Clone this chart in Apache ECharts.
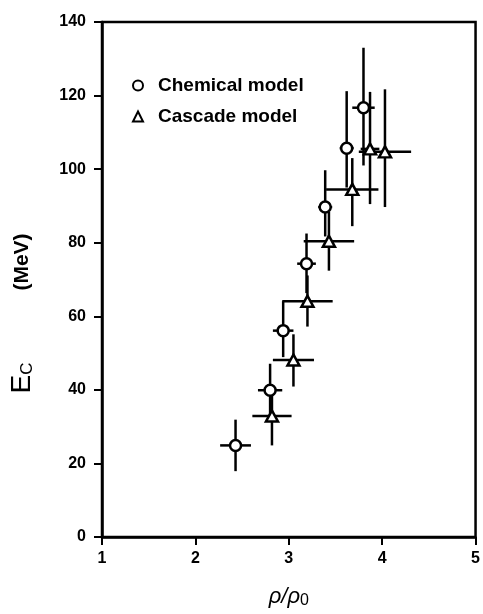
<!DOCTYPE html>
<html>
<head>
<meta charset="utf-8">
<script src="https://cdn.jsdelivr.net/npm/echarts@6/dist/echarts.min.js"></script>
<style>html,body{margin:0;padding:0;background:#fff;overflow:hidden}#c{width:483px;height:614px}</style>
</head>
<body>
<div id="c"></div>
<script>
// Chemical model (circles)
var chemX    = [2.43, 2.80, 2.94, 3.19, 3.39, 3.62, 3.80];
var chemY    = [24.9, 39.9, 56.1, 74.3, 89.7, 105.7, 116.7];
var chemXErr = [0.165, 0.13, 0.11, 0.10, 0.075, 0.075, 0.12];
var chemYLo  = [7, 7, 7.2, 8, 8, 10.7, 15.7];
var chemYHi  = [7, 7.2, 8, 8.2, 10, 15.5, 16.3];
// Cascade model (triangles)
var casX    = [2.82, 3.05, 3.20, 3.43, 3.68, 3.87, 4.03];
var casY    = [32.9, 48.1, 64.1, 80.4, 94.5, 105.5, 104.7];
var casXErr = [0.21, 0.22, 0.27, 0.27, 0.28, 0.10, 0.28];
var casYLo  = [8, 7.2, 6.9, 8, 10, 15, 15];
var casYHi  = [8, 7, 7, 8, 8.5, 15.5, 17];
var xTicks = [1, 2, 3, 4, 5];
var yTicks = [0, 20, 40, 60, 80, 100, 120, 140];

var FONT = 'Liberation Sans, Arial, sans-serif';

function rows(x, y, xe, lo, hi) {
  return x.map(function (v, i) { return [v, y[i], xe[i], lo[i], hi[i]]; });
}
function errRender(params, api) {
  var x = api.value(0), y = api.value(1), xe = api.value(2), lo = api.value(3), hi = api.value(4);
  var pl = api.coord([x - xe, y]), pr = api.coord([x + xe, y]);
  var pb = api.coord([x, y - lo]), pt = api.coord([x, y + hi]);
  var st = { stroke: '#000', lineWidth: 2.5 };
  return {
    type: 'group',
    children: [
      { type: 'line', shape: { x1: pl[0], y1: pl[1], x2: pr[0], y2: pr[1] }, style: st },
      { type: 'line', shape: { x1: pb[0], y1: pb[1], x2: pt[0], y2: pt[1] }, style: st }
    ]
  };
}

var chart = echarts.init(document.getElementById('c'), null, { renderer: 'canvas' });
chart.setOption({
  animation: false,
  backgroundColor: '#fff',
  grid: { left: 102, right: 4, top: 22, bottom: 68, show: true, borderColor: '#000', borderWidth: 2.5, backgroundColor: 'transparent' },
  xAxis: {
    type: 'value', min: xTicks[0], max: xTicks[xTicks.length - 1], interval: 1,
    axisLine: { lineStyle: { color: '#000', width: 2.5 } },
    axisTick: { inside: false, length: 8, lineStyle: { color: '#000', width: 2 } },
    axisLabel: { margin: 14, color: '#000', fontSize: 16, fontWeight: 'bold', fontFamily: FONT, showMaxLabel: true },
    splitLine: { show: false },
    name: '{i|ρ/ρ}{s|0}', nameLocation: 'middle', nameGap: 48,
    nameTextStyle: {
      rich: {
        i: { fontSize: 22, fontStyle: 'italic', fontFamily: FONT, color: '#000' },
        s: { fontSize: 16, fontFamily: FONT, color: '#000', padding: [8, 0, 0, 0] }
      }
    }
  },
  yAxis: {
    type: 'value', min: yTicks[0], max: yTicks[yTicks.length - 1], interval: 20,
    axisLine: { lineStyle: { color: '#000', width: 2.5 } },
    axisTick: { inside: false, length: 8, lineStyle: { color: '#000', width: 2 } },
    axisLabel: { margin: 16, color: '#000', fontSize: 16, fontWeight: 'bold', fontFamily: FONT },
    splitLine: { show: false }
  },
  graphic: [
    { type: 'text', x: 22, y: 378, rotation: Math.PI / 2,
      style: { text: '{e|E}{s|C}', align: 'center', verticalAlign: 'middle',
        rich: { e: { fontSize: 28, fontFamily: FONT, fill: '#000' },
                s: { fontSize: 17, fontFamily: FONT, fill: '#000', padding: [10, 0, 0, 0] } } } },
    { type: 'text', x: 22, y: 262, rotation: Math.PI / 2,
      style: { text: '(MeV)', align: 'center', verticalAlign: 'middle', font: 'bold 21px ' + FONT, fill: '#000' } }
  ],
  legend: {
    orient: 'vertical', left: 127, top: 71, itemWidth: 10, itemHeight: 10, itemGap: 12,
    textStyle: { fontSize: 19, fontWeight: 'bold', fontFamily: FONT, color: '#000', padding: [0, 0, 0, 10] },
    data: [
      { name: 'Chemical model', icon: 'circle', itemStyle: { color: '#fff', borderColor: '#000', borderWidth: 2 } },
      { name: 'Cascade model', icon: 'triangle', itemStyle: { color: '#fff', borderColor: '#000', borderWidth: 2 } }
    ]
  },
  series: [
    { name: 'chemErr', type: 'custom', renderItem: errRender, data: rows(chemX, chemY, chemXErr, chemYLo, chemYHi), z: 2, silent: true },
    { name: 'casErr', type: 'custom', renderItem: errRender, data: rows(casX, casY, casXErr, casYLo, casYHi), z: 2, silent: true },
    { name: 'Chemical model', type: 'scatter', symbol: 'circle', symbolSize: 11, z: 5,
      itemStyle: { color: '#fff', borderColor: '#000', borderWidth: 2.5, opacity: 1 },
      data: chemX.map(function (v, i) { return [v, chemY[i]]; }) },
    { name: 'Cascade model', type: 'scatter', symbol: 'triangle', symbolSize: [12, 11], z: 5,
      itemStyle: { color: '#fff', borderColor: '#000', borderWidth: 2.5, opacity: 1 },
      data: casX.map(function (v, i) { return [v, casY[i]]; }) }
  ]
});
</script>
</body>
</html>
